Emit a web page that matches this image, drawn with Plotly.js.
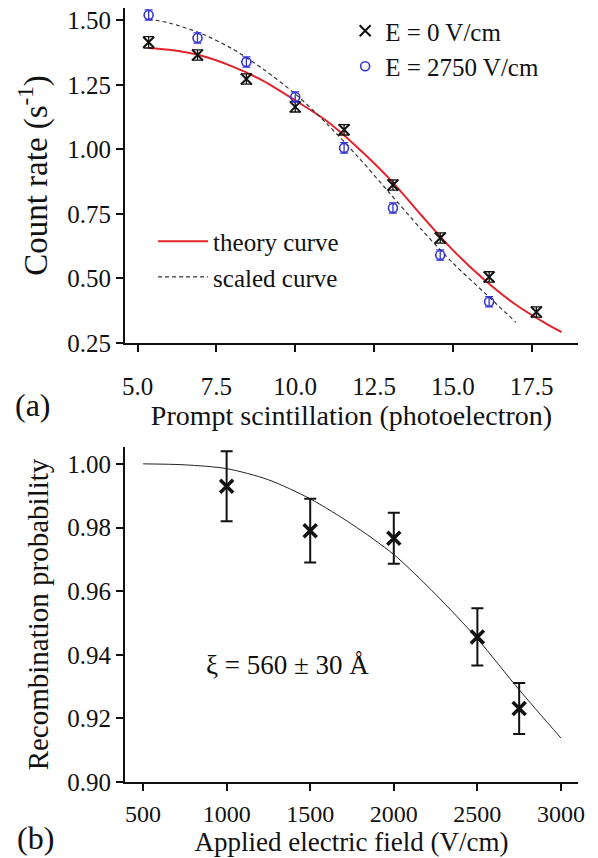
<!DOCTYPE html>
<html>
<head>
<meta charset="utf-8">
<script src="https://cdn.plot.ly/plotly-3.0.1.min.js"></script>
<style>html,body{margin:0;padding:0;background:#fff;}</style>
</head>
<body>
<div id="chart" style="width:598px;height:858px;"></div>
<script>
// ---- Panel (a) data ----
const peX0 = [5.35, 6.9, 8.45, 10.0, 11.55, 13.1, 14.6, 16.15, 17.65];
const rateE0 = [1.415, 1.366, 1.273, 1.165, 1.076, 0.862, 0.657, 0.506, 0.370];
const rateE0Err = [0.022, 0.02, 0.02, 0.02, 0.02, 0.02, 0.02, 0.02, 0.02];
const peX2750 = [5.35, 6.9, 8.45, 10.0, 11.55, 13.1, 14.6, 16.15];
const rateE2750 = [1.521, 1.432, 1.339, 1.203, 1.006, 0.773, 0.591, 0.410];
const rateE2750Err = [0.02, 0.02, 0.02, 0.02, 0.02, 0.02, 0.02, 0.02];

const theoryX = [5.35, 6.0, 7.0, 8.0, 9.0, 10.0, 11.0, 12.0, 13.0, 14.0, 15.0, 16.0, 17.0, 18.0, 18.45];
const theoryY = [1.393, 1.386, 1.364, 1.322, 1.265, 1.19, 1.11, 1.005, 0.885, 0.745, 0.61, 0.495, 0.398, 0.322, 0.292];

const scaledX = [5.35, 6.0, 7.0, 8.0, 9.0, 10.0, 11.0, 12.0, 13.0, 14.0, 15.0, 16.0, 17.0];
const scaledY = [1.505, 1.49, 1.45, 1.39, 1.31, 1.215, 1.10, 0.97, 0.83, 0.69, 0.56, 0.445, 0.33];

const xTicksA = [5.0, 7.5, 10.0, 12.5, 15.0, 17.5];
const yTicksA = [0.25, 0.50, 0.75, 1.00, 1.25, 1.50];

// ---- Panel (b) data ----
const field = [1000, 1500, 2000, 2500, 2750];
const recombProb = [0.993, 0.979, 0.9766, 0.9456, 0.9231];
const recombErr = [0.011, 0.010, 0.008, 0.009, 0.008];

const fitField = [500, 750, 1000, 1250, 1500, 1750, 2000, 2250, 2500, 2750, 3000];
const fitProb = [1.000, 0.9997, 0.9985, 0.995, 0.989, 0.981, 0.9715, 0.959, 0.945, 0.929, 0.9138];

const xTicksB = [500, 1000, 1500, 2000, 2500, 3000];
const yTicksB = [0.90, 0.92, 0.94, 0.96, 0.98, 1.00];

const FONT = '"Liberation Serif", "Times New Roman", Times, serif';
const RED = '#e3232c';
const BLUE = '#3535d0';

const traces = [
  {x: theoryX, y: theoryY, type: 'scatter', mode: 'lines', name: 'theory curve',
   line: {color: RED, width: 2, shape: 'spline', smoothing: 0.8}, xaxis: 'x', yaxis: 'y', legend: 'legend2'},
  {x: scaledX, y: scaledY, type: 'scatter', mode: 'lines', name: 'scaled curve',
   line: {color: '#333', width: 1.2, dash: '4px,3px', shape: 'spline', smoothing: 0.8}, xaxis: 'x', yaxis: 'y', legend: 'legend2'},
  {x: peX0, y: rateE0, type: 'scatter', mode: 'markers', name: 'E = 0 V/cm',
   marker: {symbol: 'x-thin-open', size: 11, color: '#111', line: {width: 2, color: '#111'}},
   error_y: {type: 'data', array: rateE0Err, visible: true, color: '#111', thickness: 1.3, width: 5},
   xaxis: 'x', yaxis: 'y', legend: 'legend'},
  {x: peX2750, y: rateE2750, type: 'scatter', mode: 'markers', name: 'E = 2750 V/cm',
   marker: {symbol: 'circle-open', size: 9, color: BLUE, line: {width: 1.6, color: BLUE}},
   error_y: {type: 'data', array: rateE2750Err, visible: true, color: BLUE, thickness: 1.3, width: 4},
   xaxis: 'x', yaxis: 'y', legend: 'legend'},
  {x: fitField, y: fitProb, type: 'scatter', mode: 'lines', name: 'fit',
   line: {color: '#222', width: 1, shape: 'spline', smoothing: 0.8}, xaxis: 'x2', yaxis: 'y2', showlegend: false},
  {x: field, y: recombProb, type: 'scatter', mode: 'markers', name: 'data',
   marker: {symbol: 'x-thin-open', size: 13, color: '#111', line: {width: 3.5, color: '#111'}},
   error_y: {type: 'data', array: recombErr, visible: true, color: '#111', thickness: 2, width: 6},
   xaxis: 'x2', yaxis: 'y2', showlegend: false}
];

const axisBase = {
  showline: true, linecolor: '#111', linewidth: 2, mirror: false,
  ticks: 'outside', ticklen: 7, tickwidth: 2, tickcolor: '#111',
  showgrid: false, zeroline: false, automargin: false,
  tickfont: {family: FONT, size: 25, color: '#111'}
};

const layout = {
  width: 598, height: 858,
  margin: {l: 125, r: 20, t: 8, b: 76},
  paper_bgcolor: '#fff', plot_bgcolor: '#fff',
  font: {family: FONT, color: '#111'},
  xaxis: Object.assign({}, axisBase, {
    domain: [0, 1], anchor: 'y', range: [4.6, 18.97],
    tickvals: xTicksA, tickformat: '.1f', ticklabelstandoff: 13,
    title: {text: 'Prompt scintillation (photoelectron)', font: {family: FONT, size: 28, color: '#111'}, standoff: 0}
  }),
  yaxis: Object.assign({}, axisBase, {
    domain: [0.5672, 1], anchor: 'x', range: [0.25, 1.548],
    tickvals: yTicksA, tickformat: '.2f',
    title: {text: 'Count rate (s<sup>-1</sup>)', font: {family: FONT, size: 33, color: '#111'}, standoff: 10}
  }),
  xaxis2: Object.assign({}, axisBase, {
    domain: [0, 1], anchor: 'y2', range: [392, 3102],
    tickvals: xTicksB, tickformat: 'd', ticklabelstandoff: 2,
    tickfont: {family: FONT, size: 24, color: '#111'},
    title: {text: 'Applied electric field (V/cm)', font: {family: FONT, size: 27, color: '#111'}, standoff: 4}
  }),
  yaxis2: Object.assign({}, axisBase, {
    domain: [0, 0.4328], anchor: 'x2', range: [0.90, 1.0053],
    tickvals: yTicksB, tickformat: '.2f',
    title: {text: 'Recombination probability', font: {family: FONT, size: 29, color: '#111'}, standoff: 10}
  }),
  legend: {
    x: 0.486, y: 1.0, xanchor: 'left', yanchor: 'top',
    bgcolor: 'rgba(0,0,0,0)', borderwidth: 0,
    font: {family: FONT, size: 25, color: '#111'}
  },
  legend2: {
    x: 0.062, y: 0.728, xanchor: 'left', yanchor: 'top',
    bgcolor: 'rgba(0,0,0,0)', borderwidth: 0, itemwidth: 50,
    font: {family: FONT, size: 25, color: '#111'}
  },
  annotations: [
    {text: 'ξ = 560 ± 30 Å', xref: 'x2', yref: 'y2', x: 1364, y: 0.9369,
     xanchor: 'center', yanchor: 'middle',
     showarrow: false, font: {family: FONT, size: 27, color: '#111'}},
    {text: '(a)', xref: 'paper', yref: 'paper', x: -0.203, y: 0.487,
     xanchor: 'center', yanchor: 'middle',
     showarrow: false, font: {family: FONT, size: 32, color: '#111'}},
    {text: '(b)', xref: 'paper', yref: 'paper', x: -0.198, y: -0.0724,
     xanchor: 'center', yanchor: 'middle',
     showarrow: false, font: {family: FONT, size: 32, color: '#111'}}
  ],
  showlegend: true
};

Plotly.newPlot('chart', traces, layout, {displayModeBar: false, staticPlot: true});
</script>
</body>
</html>
